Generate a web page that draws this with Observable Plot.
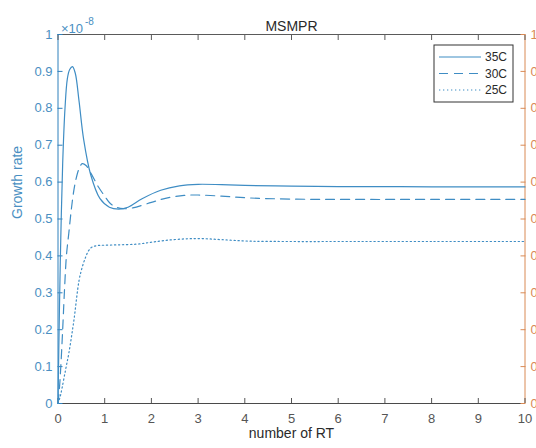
<!DOCTYPE html>
<html>
<head>
<meta charset="utf-8">
<script src="https://cdn.jsdelivr.net/npm/d3@7"></script>
<script src="https://cdn.jsdelivr.net/npm/@observablehq/plot@0.6"></script>
<style>
  html, body { margin: 0; padding: 0; background: white; overflow: hidden; }
  #chart { position: relative; width: 536px; height: 448px; }
</style>
</head>
<body>
<div id="chart"></div>
<script>
// ---- Data (growth rate in units of 1e-8) ----
const xTicks = [0, 1, 2, 3, 4, 5, 6, 7, 8, 9, 10];
const yTicks = [0, 0.1, 0.2, 0.3, 0.4, 0.5, 0.6, 0.7, 0.8, 0.9, 1];
const seriesNames = ["35C", "30C", "25C"];

const x35 = [0, 0.03, 0.06, 0.1, 0.15, 0.2, 0.25, 0.31, 0.37, 0.45, 0.55, 0.7, 0.9, 1.1, 1.3, 1.5, 1.8, 2.2, 2.6, 3.0, 3.5, 4.0, 5, 6, 7, 8, 10];
const y35 = [0, 0.25, 0.45, 0.65, 0.80, 0.88, 0.905, 0.913, 0.895, 0.82, 0.715, 0.62, 0.555, 0.532, 0.527, 0.532, 0.555, 0.578, 0.590, 0.594, 0.593, 0.591, 0.589, 0.588, 0.588, 0.587, 0.587];

const x30 = [0, 0.03, 0.06, 0.1, 0.14, 0.18, 0.23, 0.28, 0.33, 0.38, 0.45, 0.52, 0.6, 0.7, 0.87, 1.0, 1.12, 1.25, 1.4, 1.6, 2.0, 2.3, 2.7, 3.0, 3.5, 4.1, 5, 6.3, 8, 10];
const y30 = [0, 0.04, 0.1, 0.2, 0.31, 0.40, 0.46, 0.52, 0.57, 0.605, 0.636, 0.650, 0.645, 0.625, 0.586, 0.562, 0.542, 0.532, 0.528, 0.530, 0.545, 0.556, 0.564, 0.565, 0.562, 0.557, 0.554, 0.553, 0.553, 0.553];

const x25 = [0, 0.05, 0.09, 0.16, 0.23, 0.34, 0.45, 0.52, 0.59, 0.66, 0.73, 0.85, 1.0, 1.3, 1.7, 2.0, 2.3, 2.7, 3.05, 3.5, 4.1, 5, 6, 8, 10];
const y25 = [0, 0.02, 0.044, 0.09, 0.135, 0.225, 0.333, 0.37, 0.396, 0.415, 0.424, 0.428, 0.429, 0.430, 0.432, 0.437, 0.442, 0.446, 0.447, 0.444, 0.440, 0.439, 0.439, 0.439, 0.439];

const toRows = (xs, ys) => xs.map((x, i) => ({x, y: ys[i]}));
const rows35 = toRows(x35, y35);
const rows30 = toRows(x30, y30);
const rows25 = toRows(x25, y25);

// ---- Styles ----
const blue = "#3f8dc4";
const axisBlue = "#2f80bc";
const blueText = "#4a8fc2";
const orange = "#d98a55";
const dark = "#4a4a4a";
const font = "'Liberation Sans', Arial, Helvetica, sans-serif";
const dashes = [null, "9,6", "1.3,2.7"];
const fmt = d => (d === 0 || d === 1) ? String(d) : d.toFixed(1);

const plot = Plot.plot({
  width: 536,
  height: 448,
  marginLeft: 57.5,
  marginRight: 11.5,
  marginTop: 34,
  marginBottom: 45,
  x: {domain: [0, 10]},
  y: {domain: [0, 1]},
  style: {fontFamily: font, fontSize: "13px", background: "white", overflow: "hidden"},
  marks: [
    // box lines
    Plot.ruleY([1], {stroke: "#5a5a5a", strokeWidth: 1}),
    Plot.ruleY([0], {stroke: dark, strokeWidth: 1}),
    Plot.ruleX([0], {stroke: axisBlue, strokeWidth: 1}),
    Plot.ruleX([10], {stroke: orange, strokeWidth: 1}),
    // axes (inward ticks)
    Plot.axisX({ticks: xTicks, tickSize: -5, tickPadding: 15, label: null, color: "#555", tickFormat: d => String(d), fontSize: 13}),
    Plot.axisX({anchor: "top", ticks: xTicks, tickSize: -5, label: null, stroke: "#5a5a5a", tickFormat: () => ""}),
    Plot.axisY({ticks: yTicks, tickSize: -5, tickPadding: 10.5, label: null, color: blueText, stroke: axisBlue, tickFormat: fmt, fontSize: 13}),
    Plot.axisY({anchor: "right", ticks: yTicks, tickSize: -5, tickPadding: 10.5, label: null, color: orange, tickFormat: fmt, fontSize: 13}),
    // data
    Plot.line(rows35, {x: "x", y: "y", stroke: blue, strokeWidth: 1.2, curve: "catmull-rom"}),
    Plot.line(rows30, {x: "x", y: "y", stroke: blue, strokeWidth: 1.2, strokeDasharray: dashes[1], curve: "catmull-rom"}),
    Plot.line(rows25, {x: "x", y: "y", stroke: blue, strokeWidth: 1.2, strokeDasharray: dashes[2], curve: "catmull-rom"}),
    // texts
    Plot.text(["MSMPR"], {frameAnchor: "top", dy: -13, fontSize: 14, fill: "#2a2a2a"}),
    Plot.text(["×10"], {frameAnchor: "top-left", textAnchor: "start", dx: 3, dy: -11, fontSize: 13, fill: blueText}),
    Plot.text(["-8"], {frameAnchor: "top-left", textAnchor: "start", dx: 27, dy: -17, fontSize: 10, fill: blueText}),
    Plot.text(["Growth rate"], {frameAnchor: "left", rotate: -90, dx: -40, fontSize: 14, fill: blueText}),
    Plot.text(["number of RT"], {frameAnchor: "bottom", dy: 34, fontSize: 14, fill: "#2a2a2a"})
  ]
});

document.getElementById("chart").appendChild(plot);

// ---- Legend (drawn inside the plot's svg) ----
const svg = d3.select(plot);
const lg = svg.append("g").attr("transform", "translate(434,45)");
lg.append("rect").attr("width", 79).attr("height", 57)
  .attr("fill", "white").attr("stroke", "#333").attr("stroke-width", 1);
seriesNames.forEach((name, i) => {
  const yy = 12 + i * 16.5;
  lg.append("line").attr("x1", 5).attr("x2", 47).attr("y1", yy).attr("y2", yy)
    .attr("stroke", blue).attr("stroke-width", 1.2)
    .attr("stroke-dasharray", dashes[i]);
  lg.append("text").attr("x", 51).attr("y", yy).attr("dy", "0.35em")
    .attr("text-anchor", "start")
    .attr("font-family", font).attr("font-size", 12).attr("fill", "#2a2a2a")
    .text(name);
});
</script>
</body>
</html>
